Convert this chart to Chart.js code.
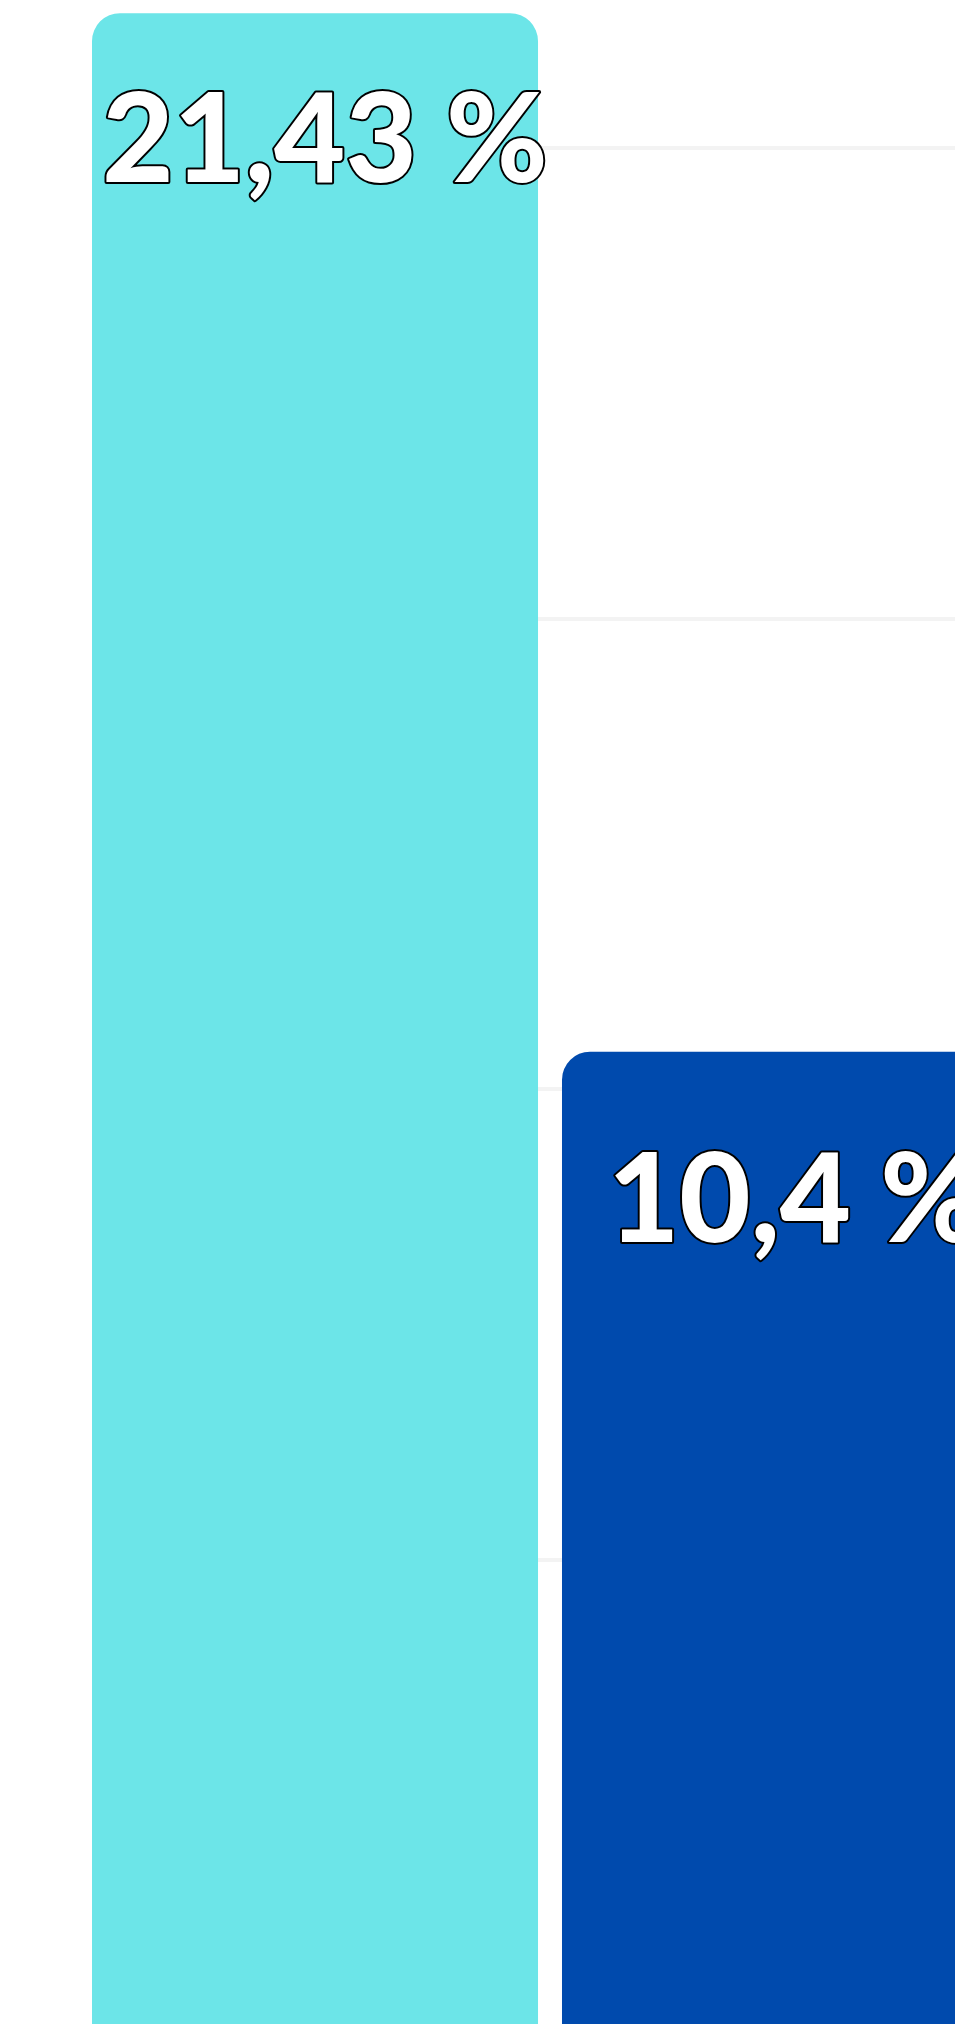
<!DOCTYPE html>
<html>
<head>
<meta charset="utf-8">
<title>Barres</title>
<script src="https://cdn.jsdelivr.net/npm/chart.js@4/dist/chart.umd.min.js"></script>
<style>
  html, body { margin: 0; padding: 0; background: #fff; overflow: hidden; }
  #cadre { position: relative; width: 955px; height: 2024px; overflow: hidden; background: #fff; }
  /* the chart is bigger than the window: only its upper-left part is seen */
  #zone { position: absolute; left: 0; top: -323px; width: 1020px; height: 2354px; }
</style>
</head>
<body>
<div id="cadre">
  <div id="zone"><canvas id="graphique"></canvas></div>
</div>
<script>
// data
var categories = ['Catégorie 1', 'Catégorie 2'];
var valeurs = [21.43, 10.4];
var couleurs = ['#6ce5e8', '#004aad'];
var yMin = 0, yMax = 25, yPas = 5;

function enPourcent(v) {
    return String(v).replace('.', ',') + ' %';
}

// one point per category, x = index of the category
var points = valeurs.map(function(v, i) {
    return { x: i, y: v };
});

// white text with a black outline, inside the top of each bar
var etiquettes = {
    id: 'etiquettes',
    afterDatasetsDraw: function(chart, args, opts) {
        var ctx = chart.ctx;
        var meta = chart.getDatasetMeta(0);
        ctx.save();
        ctx.font = opts.font;
        ctx.textAlign = 'center';
        ctx.textBaseline = 'alphabetic';
        ctx.lineJoin = 'round';
        ctx.lineWidth = opts.contour;
        ctx.strokeStyle = '#000';
        ctx.fillStyle = '#fff';
        meta.data.forEach(function(barre, i) {
            var texte = enPourcent(valeurs[i]);
            var x = barre.x + opts.decalageX;
            var y = barre.y + opts.decalagesY[i];
            ctx.strokeText(texte, x, y);
            ctx.fillText(texte, x, y);
        });
        ctx.restore();
    }
};

var ctx = document.getElementById('graphique').getContext('2d');
var graphique = new Chart(ctx, {
    type: 'bar',
    data: {
        labels: categories,
        datasets: [{
            data: points,
            backgroundColor: couleurs,
            borderWidth: 0,
            borderRadius: { topLeft: 28, topRight: 28, bottomLeft: 0, bottomRight: 0 },
            borderSkipped: 'start',
            barPercentage: 0.949,
            categoryPercentage: 1
        }]
    },
    plugins: [etiquettes],
    options: {
        responsive: true,
        maintainAspectRatio: false,
        animation: false,
        layout: { padding: { left: 92, right: 0, top: 0, bottom: 0 } },
        plugins: {
            legend: { display: false },
            tooltip: { enabled: false },
            etiquettes: {
                font: '900 123px Lato',
                contour: 4,
                decalageX: 10,
                decalagesY: [169, 190]
            }
        },
        scales: {
            // the plot starts right at the left edge of the first bar
            x: {
                type: 'linear',
                display: false,
                offset: false,
                min: -0.4745,
                max: 1.5,
                ticks: { stepSize: 1, callback: function(v) { return categories[v]; } }
            },
            y: {
                min: yMin,
                max: yMax,
                ticks: { display: false, stepSize: yPas },
                border: { display: false },
                grid: { color: '#f3f3f3', lineWidth: 4, drawTicks: false }
            }
        }
    }
});
</script>
</body>
</html>
